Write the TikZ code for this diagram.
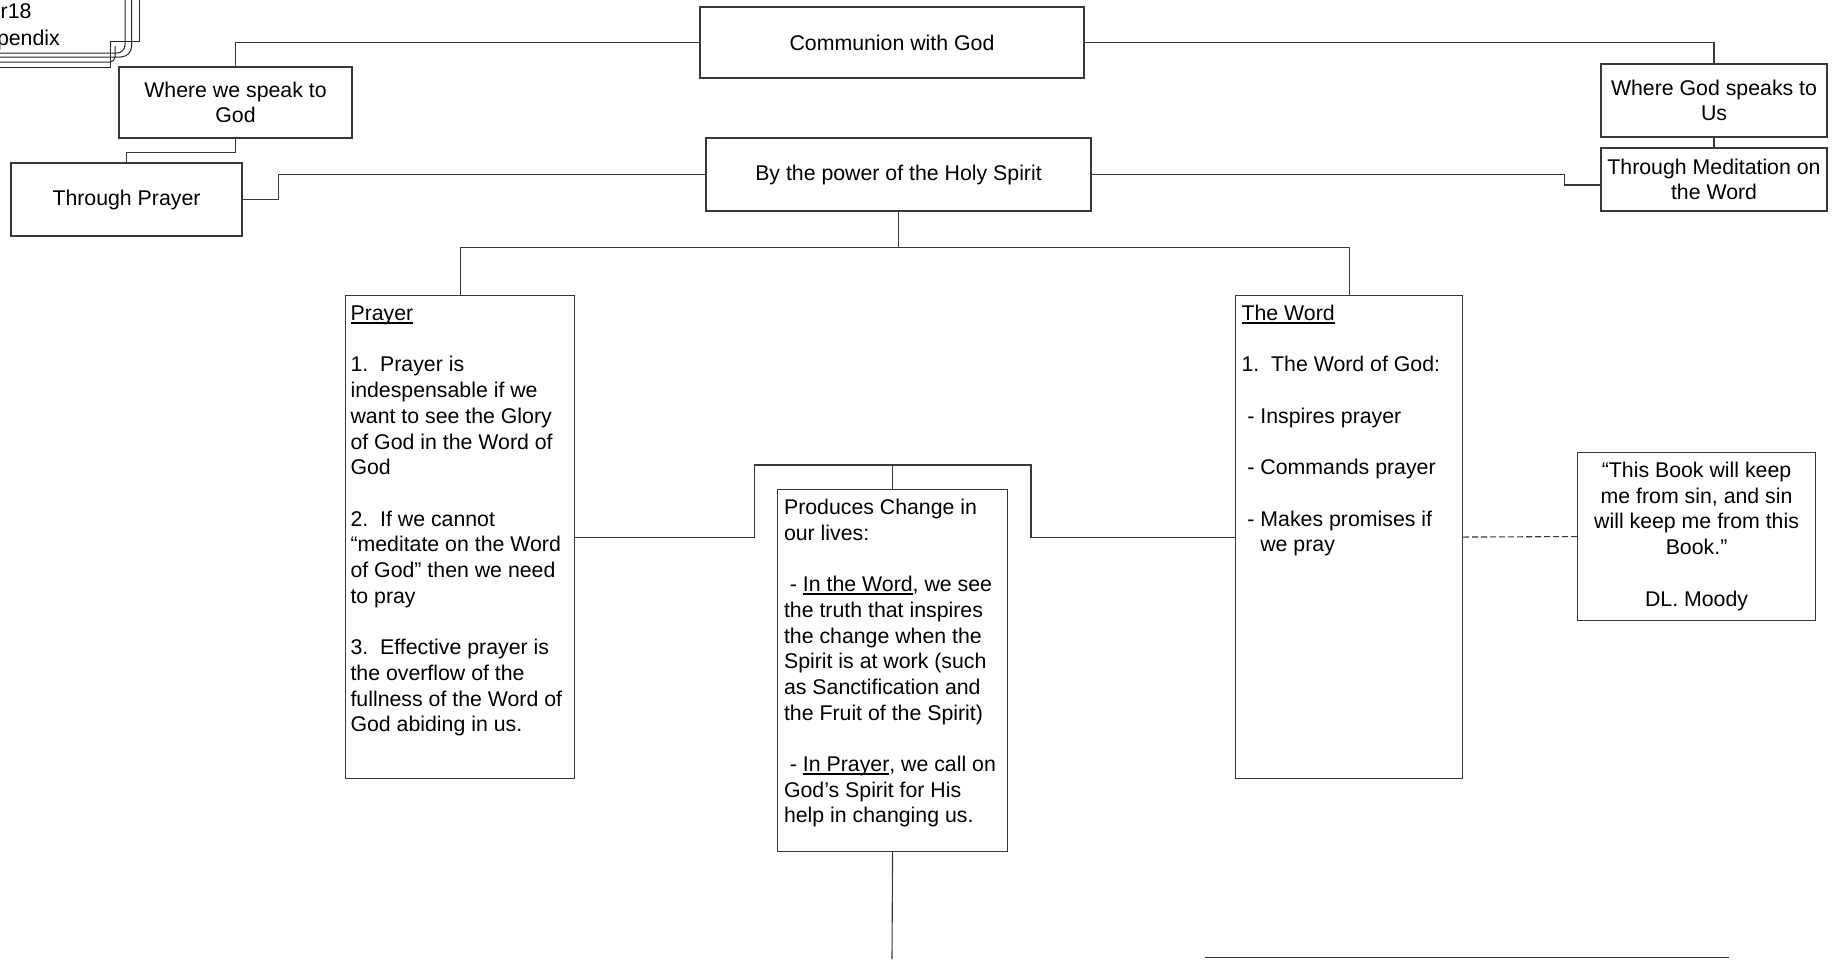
\documentclass[tikz,border=0pt]{standalone}
\usepackage{fontspec}
\setmainfont{Liberation Sans}
\usetikzlibrary{calc}
\newcommand\myul[1]{\setbox0=\hbox{#1}\rlap{\rule[-3pt]{\wd0}{1.2pt}}\box0}
\newcommand\lead{\hspace*{5.9pt}}
\newcommand\tbox[3]{\parbox[c][#1][t]{#2}{\raggedright\rule{0pt}{25pt}#3}}
\newcommand\cbx[3]{\parbox[c][#1][t]{#2}{\centering\rule{0pt}{25pt}#3}}
\tikzset{
  fnt/.style={font=\fontsize{21.3pt}{25.7pt}\selectfont},
  cbox/.style={draw=black!78, line width=1.1pt, fnt, align=center, inner sep=0pt},
  tbx/.style={draw=black!78, line width=1.1pt, fnt, inner sep=0pt, anchor=north west},
  conn/.style={draw=black!78, line width=1.1pt},
  frm/.style={draw=black!85, line width=1pt}
}
\begin{document}
\begin{tikzpicture}[x=1pt,y=-1pt]
\useasboundingbox (0,0) rectangle (1834,959);
\clip (0,0) rectangle (1834,959);
\fill[white] (0,0) rectangle (1834,959);

% cut-off page frame in the top-left corner
\node[fnt, anchor=base east, inner sep=0pt] (hdra) at (31.7,18) {r18};
\node[fnt, anchor=base east, inner sep=0pt] (hdrb) at (60,45.7) {Appendix};
\draw[frm, rounded corners=8pt] (125,0) -- (125,53) -- (0,53);
\draw[frm, rounded corners=11pt] (131.7,0) -- (131.7,57) -- (0,57);
\draw[frm] (139.3,0) -- (139.3,41) -- (110,41) -- (110,67) -- (0,67);
\draw[frm, rounded corners=5pt] (115,46) -- (115,62) -- (0,62);

% boxes
\node[cbox, minimum width=384pt, minimum height=71pt] (comm) at (892,42.5) {Communion with God};
\node[cbox, minimum width=385pt, minimum height=73pt] (power) at (898.5,174.5) {By the power of the Holy Spirit};
\node[cbox, minimum width=233pt, minimum height=71pt] (speak) at (235.5,102.5) {Where we speak to\\God};
\node[cbox, minimum width=231pt, minimum height=73pt] (tprayer) at (126.5,199.5) {Through Prayer};
\node[cbox, minimum width=226pt, minimum height=73pt] (gspeaks) at (1714,100.5) {Where God speaks to\\Us};
\node[cbox, minimum width=226pt, minimum height=63pt] (tmed) at (1714,179.5) {Through Meditation on\\the Word};

\node[tbx, minimum width=229pt] (prayer) at (345,295) {\tbox{483pt}{219pt}{%
\myul{Prayer}\\
\mbox{}\\
1.\ \ Prayer is\\
indespensable if we\\
want to see the Glory\\
of God in the Word of\\
God\\
\mbox{}\\
2.\ \ If we cannot\\
“meditate on the Word\\
of God” then we need\\
to pray\\
\mbox{}\\
3.\ \ Effective prayer is\\
the overflow of the\\
fullness of the Word of\\
God abiding in us.}};

\node[tbx, minimum width=227pt] (word) at (1235,295) {\tbox{483pt}{215pt}{%
\myul{The Word}\\
\mbox{}\\
1.\ \ The Word of God:\\
\mbox{}\\
\lead- Inspires prayer\\
\mbox{}\\
\lead- Commands prayer\\
\mbox{}\\
\lead- Makes promises if\\
\hspace*{18.8pt}we pray}};

\node[tbx, minimum width=230pt] (produces) at (777,489) {\tbox{362pt}{217pt}{%
Produces Change in\\
our lives:\\
\mbox{}\\
\lead- \myul{In the Word}, we see\\
the truth that inspires\\
the change when the\\
Spirit is at work (such\\
as Sanctification and\\
the Fruit of the Spirit)\\
\mbox{}\\
\lead- \myul{In Prayer}, we call on\\
God’s Spirit for His\\
help in changing us.}};

\node[tbx, minimum width=238pt] (quote) at (1577,452) {\cbx{168pt}{232pt}{%
“This Book will keep\\
me from sin, and sin\\
will keep me from this\\
Book.”\\
\mbox{}\\
DL. Moody}};

% connectors
\draw[conn] (comm.west) -| (speak.north);
\draw[conn] (speak.south) -- ++(0,14) -| (tprayer.north);
\draw[conn] (tprayer.east) -- ++(36,0) |- (power.west);
\draw[conn] (comm.east) -| (gspeaks.north);
\draw[conn] (gspeaks.south) -- (tmed.north);
\draw[conn] (power.east) -- ++(473,0) |- ($(tmed.west)+(0,5.5)$);
\draw[conn] (power.south) -- ++(0,35.5) coordinate (hub);
\draw[conn] (hub) -| (prayer.north);
\draw[conn] (hub) -| (word.north);
\draw[conn] (prayer.east) -| ($(produces.north)+(-138,-24)$) -| ($(word.west)+(-204,0)$) -- (word.west);
\draw[conn] (produces.north) -- ++(0,-24);
\coordinate (pend) at (892,959);
\draw[conn] (produces.south) -- (pend);
\draw[conn, dash pattern=on 6pt off 3pt] (word.east) -- (quote.west);
\coordinate (bla) at (1205,957.5);
\coordinate (blb) at (1729,957.5);
\draw[conn] (bla) -- (blb);
\end{tikzpicture}
\end{document}
